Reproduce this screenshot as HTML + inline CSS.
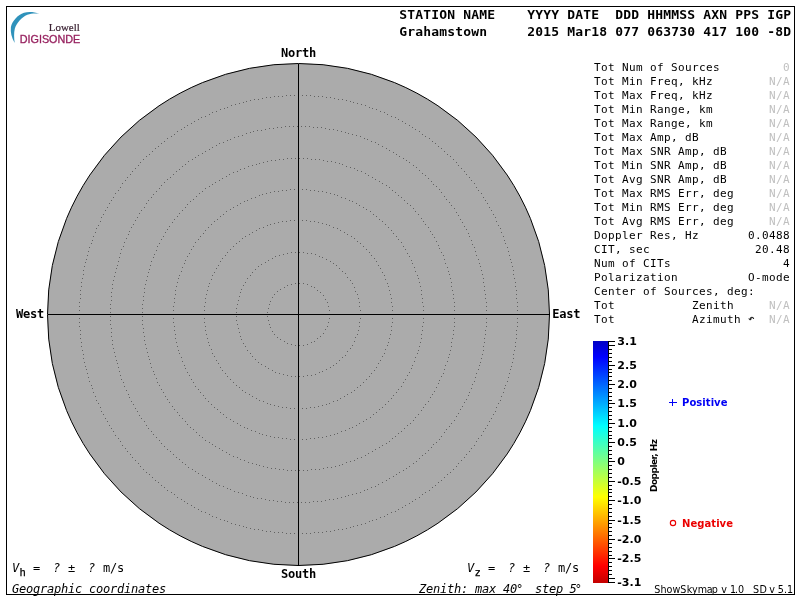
<!DOCTYPE html>
<html lang="en">
<head>
<meta charset="utf-8">
<title>ShowSkymap - Grahamstown</title>
<style>
html,body{margin:0;padding:0;background:#fff;width:800px;height:600px;overflow:hidden}
svg{position:absolute;left:0;top:0;display:block}
text{white-space:pre}
.m{font-family:"DejaVu Sans Mono","Liberation Mono",monospace;font-size:12px;fill:#000}
.mb{font-family:"DejaVu Sans Mono","Liberation Mono",monospace;font-size:12px;font-weight:bold;fill:#000}
.hb{font-family:"DejaVu Sans Mono","Liberation Mono",monospace;font-size:13px;font-weight:bold;fill:#000}
.mi{font-family:"DejaVu Sans Mono","Liberation Mono",monospace;font-size:12px;font-style:italic;fill:#000}
.p{font-family:"DejaVu Sans Mono","Liberation Mono",monospace;font-size:11px;fill:#000}
.g{fill:#c0c0c0}
.s{font-family:"DejaVu Sans","Liberation Sans",sans-serif;font-size:9.6px;fill:#000}
.sb{font-family:"DejaVu Sans","Liberation Sans",sans-serif;font-weight:bold;fill:#000}
</style>
</head>
<body>
<svg width="800" height="600" viewBox="0 0 800 600">
<defs>
<linearGradient id="jet" gradientUnits="userSpaceOnUse" x1="0" y1="341" x2="0" y2="583">
<stop offset="0.0000" stop-color="rgb(0,0,195)"/>
<stop offset="0.0661" stop-color="rgb(0,0,255)"/>
<stop offset="0.3512" stop-color="rgb(0,255,255)"/>
<stop offset="0.6446" stop-color="rgb(255,255,0)"/>
<stop offset="0.9298" stop-color="rgb(255,0,0)"/>
<stop offset="1.0000" stop-color="rgb(195,0,0)"/>
</linearGradient>
</defs>
<rect x="6.5" y="6.5" width="788" height="588" fill="#fff" stroke="#000" stroke-width="1" shape-rendering="crispEdges"/>
<g id="logo">
<path d="M14.7,43 C11.6,38 10.3,32.2 10.9,27 C12.2,21 17.8,14.8 24,12.7 C29,11.6 34.5,12 39.3,13.9 C35.5,13.1 31,13.5 27.4,14.8 C21.5,17.2 16.6,23 14.8,28.8 C13.8,33 14,38 14.7,43 Z" fill="#2f92bb"/>
<text x="48.8" y="30.5" textLength="31" lengthAdjust="spacingAndGlyphs" style="font-family:'Liberation Serif',serif;font-size:10.5px;fill:#3b2233;stroke:#3b2233;stroke-width:0.2px">Lowell</text>
<text x="19.7" y="43.4" textLength="60.6" lengthAdjust="spacingAndGlyphs" style="font-family:'Liberation Sans',sans-serif;font-size:10.5px;fill:#97215f;stroke:#97215f;stroke-width:0.3px">DIGISONDE</text>
</g>
<text class="hb" x="399.3 407.3 415.3 423.3 431.3 439.3 447.3" y="19">STATION</text>
<text class="hb" x="463.3 471.3 479.3 487.3" y="19">NAME</text>
<text class="hb" x="527.3 535.3 543.3 551.3" y="19">YYYY</text>
<text class="hb" x="567.3 575.3 583.3 591.3" y="19">DATE</text>
<text class="hb" x="615.3 623.3 631.3" y="19">DDD</text>
<text class="hb" x="647.3 655.3 663.3 671.3 679.3 687.3" y="19">HHMMSS</text>
<text class="hb" x="703.3 711.3 719.3" y="19">AXN</text>
<text class="hb" x="735.3 743.3 751.3" y="19">PPS</text>
<text class="hb" x="767.3 775.3 783.3" y="19">IGP</text>
<text class="hb" x="399.3 407.3 415.3 423.3 431.3 439.3 447.3 455.3 463.3 471.3 479.3" y="36">Grahamstown</text>
<text class="hb" x="527.3 535.3 543.3 551.3" y="36">2015</text>
<text class="hb" x="567.3 575.3 583.3 591.3 599.3" y="36">Mar18</text>
<text class="hb" x="615.3 623.3 631.3" y="36">077</text>
<text class="hb" x="647.3 655.3 663.3 671.3 679.3 687.3" y="36">063730</text>
<text class="hb" x="703.3 711.3 719.3" y="36">417</text>
<text class="hb" x="735.3 743.3 751.3" y="36">100</text>
<text class="hb" x="767.3 775.3 783.3" y="36">-8D</text>
<text class="p" x="594 601 608" y="71">Tot</text>
<text class="p" x="622 629 636" y="71">Num</text>
<text class="p" x="650 657" y="71">of</text>
<text class="p" x="671 678 685 692 699 706 713" y="71">Sources</text>
<text class="p g" x="783" y="71">0</text>
<text class="p" x="594 601 608" y="85">Tot</text>
<text class="p" x="622 629 636" y="85">Min</text>
<text class="p" x="650 657 664 671 678" y="85">Freq,</text>
<text class="p" x="692 699 706" y="85">kHz</text>
<text class="p g" x="769 776 783" y="85">N/A</text>
<text class="p" x="594 601 608" y="99">Tot</text>
<text class="p" x="622 629 636" y="99">Max</text>
<text class="p" x="650 657 664 671 678" y="99">Freq,</text>
<text class="p" x="692 699 706" y="99">kHz</text>
<text class="p g" x="769 776 783" y="99">N/A</text>
<text class="p" x="594 601 608" y="113">Tot</text>
<text class="p" x="622 629 636" y="113">Min</text>
<text class="p" x="650 657 664 671 678 685" y="113">Range,</text>
<text class="p" x="699 706" y="113">km</text>
<text class="p g" x="769 776 783" y="113">N/A</text>
<text class="p" x="594 601 608" y="127">Tot</text>
<text class="p" x="622 629 636" y="127">Max</text>
<text class="p" x="650 657 664 671 678 685" y="127">Range,</text>
<text class="p" x="699 706" y="127">km</text>
<text class="p g" x="769 776 783" y="127">N/A</text>
<text class="p" x="594 601 608" y="141">Tot</text>
<text class="p" x="622 629 636" y="141">Max</text>
<text class="p" x="650 657 664 671" y="141">Amp,</text>
<text class="p" x="685 692" y="141">dB</text>
<text class="p g" x="769 776 783" y="141">N/A</text>
<text class="p" x="594 601 608" y="155">Tot</text>
<text class="p" x="622 629 636" y="155">Max</text>
<text class="p" x="650 657 664" y="155">SNR</text>
<text class="p" x="678 685 692 699" y="155">Amp,</text>
<text class="p" x="713 720" y="155">dB</text>
<text class="p g" x="769 776 783" y="155">N/A</text>
<text class="p" x="594 601 608" y="169">Tot</text>
<text class="p" x="622 629 636" y="169">Min</text>
<text class="p" x="650 657 664" y="169">SNR</text>
<text class="p" x="678 685 692 699" y="169">Amp,</text>
<text class="p" x="713 720" y="169">dB</text>
<text class="p g" x="769 776 783" y="169">N/A</text>
<text class="p" x="594 601 608" y="183">Tot</text>
<text class="p" x="622 629 636" y="183">Avg</text>
<text class="p" x="650 657 664" y="183">SNR</text>
<text class="p" x="678 685 692 699" y="183">Amp,</text>
<text class="p" x="713 720" y="183">dB</text>
<text class="p g" x="769 776 783" y="183">N/A</text>
<text class="p" x="594 601 608" y="197">Tot</text>
<text class="p" x="622 629 636" y="197">Max</text>
<text class="p" x="650 657 664" y="197">RMS</text>
<text class="p" x="678 685 692 699" y="197">Err,</text>
<text class="p" x="713 720 727" y="197">deg</text>
<text class="p g" x="769 776 783" y="197">N/A</text>
<text class="p" x="594 601 608" y="211">Tot</text>
<text class="p" x="622 629 636" y="211">Min</text>
<text class="p" x="650 657 664" y="211">RMS</text>
<text class="p" x="678 685 692 699" y="211">Err,</text>
<text class="p" x="713 720 727" y="211">deg</text>
<text class="p g" x="769 776 783" y="211">N/A</text>
<text class="p" x="594 601 608" y="225">Tot</text>
<text class="p" x="622 629 636" y="225">Avg</text>
<text class="p" x="650 657 664" y="225">RMS</text>
<text class="p" x="678 685 692 699" y="225">Err,</text>
<text class="p" x="713 720 727" y="225">deg</text>
<text class="p g" x="769 776 783" y="225">N/A</text>
<text class="p" x="594 601 608 615 622 629 636" y="239">Doppler</text>
<text class="p" x="650 657 664 671" y="239">Res,</text>
<text class="p" x="685 692" y="239">Hz</text>
<text class="p" x="748 755 762 769 776 783" y="239">0.0488</text>
<text class="p" x="594 601 608 615" y="253">CIT,</text>
<text class="p" x="629 636 643" y="253">sec</text>
<text class="p" x="755 762 769 776 783" y="253">20.48</text>
<text class="p" x="594 601 608" y="267">Num</text>
<text class="p" x="622 629" y="267">of</text>
<text class="p" x="643 650 657 664" y="267">CITs</text>
<text class="p" x="783" y="267">4</text>
<text class="p" x="594 601 608 615 622 629 636 643 650 657 664 671" y="281">Polarization</text>
<text class="p" x="748 755 762 769 776 783" y="281">O-mode</text>
<text class="p" x="594 601 608 615 622 629" y="295">Center</text>
<text class="p" x="643 650" y="295">of</text>
<text class="p" x="664 671 678 685 692 699 706 713" y="295">Sources,</text>
<text class="p" x="727 734 741 748" y="295">deg:</text>
<text class="p" x="594 601 608" y="309">Tot</text>
<text class="p" x="692 699 706 713 720 727" y="309">Zenith</text>
<text class="p g" x="769 776 783" y="309">N/A</text>
<text class="p" x="594 601 608" y="323">Tot</text>
<text class="p" x="692 699 706 713 720 727 734" y="323">Azimuth</text>
<text class="p g" x="769 776 783" y="323">N/A</text>
<text class="m" x="748" y="322" style="font-size:10.5px;font-weight:bold;fill:#222">↶</text>
<circle cx="298.5" cy="314.5" r="251" fill="#ababab" stroke="#000" stroke-width="1"/>
<path d="M329 314.5h1M329 310.5h1M328 306.5h1M327 302.5h1M325 299.5h1M323 295.5h1M320 292.5h1M317 290.5h1M314 287.5h1M311 286.5h1M307 284.5h1M303 283.5h1M299 283.5h1M295 283.5h1M291 284.5h1M287 285.5h1M284 287.5h1M280 289.5h1M277 291.5h1M274 294.5h1M272 297.5h1M270 301.5h1M269 304.5h1M268 308.5h1M267 312.5h1M267 316.5h1M268 320.5h1M269 324.5h1M270 327.5h1M272 331.5h1M274 334.5h1M277 337.5h1M280 339.5h1M284 341.5h1M287 343.5h1M291 344.5h1M295 345.5h1M299 345.5h1M303 345.5h1M307 344.5h1M311 342.5h1M314 341.5h1M317 338.5h1M320 336.5h1M323 333.5h1M325 329.5h1M327 326.5h1M328 322.5h1M329 318.5h1M360 314.5h1M360 310.5h1M359 306.5h1M359 302.5h1M358 298.5h1M357 294.5h1M355 291.5h1M354 287.5h1M352 283.5h1M350 280.5h1M347 277.5h1M345 273.5h1M342 271.5h1M339 268.5h1M336 265.5h1M333 263.5h1M330 261.5h1M326 259.5h1M322 257.5h1M319 256.5h1M315 254.5h1M311 253.5h1M307 253.5h1M303 252.5h1M299 252.5h1M295 252.5h1M291 252.5h1M287 253.5h1M283 254.5h1M279 255.5h1M275 256.5h1M272 258.5h1M268 260.5h1M265 262.5h1M261 264.5h1M258 266.5h1M255 269.5h1M252 272.5h1M250 275.5h1M247 278.5h1M245 282.5h1M243 285.5h1M241 289.5h1M240 292.5h1M239 296.5h1M238 300.5h1M237 304.5h1M236 308.5h1M236 312.5h1M236 316.5h1M236 320.5h1M237 324.5h1M238 328.5h1M239 332.5h1M240 336.5h1M241 339.5h1M243 343.5h1M245 346.5h1M247 350.5h1M250 353.5h1M252 356.5h1M255 359.5h1M258 362.5h1M261 364.5h1M265 366.5h1M268 368.5h1M272 370.5h1M275 372.5h1M279 373.5h1M283 374.5h1M287 375.5h1M291 376.5h1M295 376.5h1M299 376.5h1M303 376.5h1M307 375.5h1M311 375.5h1M315 374.5h1M319 372.5h1M322 371.5h1M326 369.5h1M330 367.5h1M333 365.5h1M336 363.5h1M339 360.5h1M342 357.5h1M345 355.5h1M347 351.5h1M350 348.5h1M352 345.5h1M354 341.5h1M355 337.5h1M357 334.5h1M358 330.5h1M359 326.5h1M359 322.5h1M360 318.5h1M392 314.5h1M392 310.5h1M392 306.5h1M391 302.5h1M391 298.5h1M390 294.5h1M389 290.5h1M388 286.5h1M387 283.5h1M385 279.5h1M384 275.5h1M382 272.5h1M380 268.5h1M378 265.5h1M376 261.5h1M374 258.5h1M371 255.5h1M369 252.5h1M366 249.5h1M363 246.5h1M360 243.5h1M357 241.5h1M354 238.5h1M351 236.5h1M347 234.5h1M344 232.5h1M340 230.5h1M337 228.5h1M333 227.5h1M329 225.5h1M326 224.5h1M322 223.5h1M318 222.5h1M314 221.5h1M310 221.5h1M306 220.5h1M302 220.5h1M298 220.5h1M294 220.5h1M290 220.5h1M286 221.5h1M282 221.5h1M278 222.5h1M274 223.5h1M270 224.5h1M267 225.5h1M263 227.5h1M259 228.5h1M256 230.5h1M252 232.5h1M249 234.5h1M245 236.5h1M242 238.5h1M239 241.5h1M236 243.5h1M233 246.5h1M230 249.5h1M227 252.5h1M225 255.5h1M222 258.5h1M220 261.5h1M218 265.5h1M216 268.5h1M214 272.5h1M212 275.5h1M211 279.5h1M209 283.5h1M208 286.5h1M207 290.5h1M206 294.5h1M205 298.5h1M205 302.5h1M204 306.5h1M204 310.5h1M204 314.5h1M204 318.5h1M204 322.5h1M205 326.5h1M205 330.5h1M206 334.5h1M207 338.5h1M208 342.5h1M209 345.5h1M211 349.5h1M212 353.5h1M214 356.5h1M216 360.5h1M218 363.5h1M220 367.5h1M222 370.5h1M225 373.5h1M227 376.5h1M230 379.5h1M233 382.5h1M236 385.5h1M239 387.5h1M242 390.5h1M245 392.5h1M249 394.5h1M252 396.5h1M256 398.5h1M259 400.5h1M263 401.5h1M267 403.5h1M270 404.5h1M274 405.5h1M278 406.5h1M282 407.5h1M286 407.5h1M290 408.5h1M294 408.5h1M298 408.5h1M302 408.5h1M306 408.5h1M310 407.5h1M314 407.5h1M318 406.5h1M322 405.5h1M326 404.5h1M329 403.5h1M333 401.5h1M337 400.5h1M340 398.5h1M344 396.5h1M347 394.5h1M351 392.5h1M354 390.5h1M357 387.5h1M360 385.5h1M363 382.5h1M366 379.5h1M369 376.5h1M371 373.5h1M374 370.5h1M376 367.5h1M378 363.5h1M380 360.5h1M382 356.5h1M384 353.5h1M385 349.5h1M387 345.5h1M388 342.5h1M389 338.5h1M390 334.5h1M391 330.5h1M391 326.5h1M392 322.5h1M392 318.5h1M423 314.5h1M423 310.5h1M423 306.5h1M422 302.5h1M422 298.5h1M421 294.5h1M421 290.5h1M420 286.5h1M419 282.5h1M418 278.5h1M417 275.5h1M415 271.5h1M414 267.5h1M412 263.5h1M411 260.5h1M409 256.5h1M407 253.5h1M405 249.5h1M403 246.5h1M401 242.5h1M398 239.5h1M396 236.5h1M393 233.5h1M391 230.5h1M388 227.5h1M385 224.5h1M382 221.5h1M379 219.5h1M376 216.5h1M373 214.5h1M370 211.5h1M366 209.5h1M363 207.5h1M359 205.5h1M356 203.5h1M352 201.5h1M349 200.5h1M345 198.5h1M341 197.5h1M337 195.5h1M334 194.5h1M330 193.5h1M326 192.5h1M322 191.5h1M318 191.5h1M314 190.5h1M310 190.5h1M306 189.5h1M302 189.5h1M298 189.5h1M294 189.5h1M290 189.5h1M286 190.5h1M282 190.5h1M278 191.5h1M274 191.5h1M270 192.5h1M266 193.5h1M262 194.5h1M259 195.5h1M255 197.5h1M251 198.5h1M247 200.5h1M244 201.5h1M240 203.5h1M237 205.5h1M233 207.5h1M230 209.5h1M226 211.5h1M223 214.5h1M220 216.5h1M217 219.5h1M214 221.5h1M211 224.5h1M208 227.5h1M205 230.5h1M203 233.5h1M200 236.5h1M198 239.5h1M195 242.5h1M193 246.5h1M191 249.5h1M189 253.5h1M187 256.5h1M185 260.5h1M184 263.5h1M182 267.5h1M181 271.5h1M179 275.5h1M178 278.5h1M177 282.5h1M176 286.5h1M175 290.5h1M175 294.5h1M174 298.5h1M174 302.5h1M173 306.5h1M173 310.5h1M173 314.5h1M173 318.5h1M173 322.5h1M174 326.5h1M174 330.5h1M175 334.5h1M175 338.5h1M176 342.5h1M177 346.5h1M178 350.5h1M179 353.5h1M181 357.5h1M182 361.5h1M184 365.5h1M185 368.5h1M187 372.5h1M189 375.5h1M191 379.5h1M193 382.5h1M195 386.5h1M198 389.5h1M200 392.5h1M203 395.5h1M205 398.5h1M208 401.5h1M211 404.5h1M214 407.5h1M217 409.5h1M220 412.5h1M223 414.5h1M226 417.5h1M230 419.5h1M233 421.5h1M237 423.5h1M240 425.5h1M244 427.5h1M247 428.5h1M251 430.5h1M255 431.5h1M259 433.5h1M262 434.5h1M266 435.5h1M270 436.5h1M274 437.5h1M278 437.5h1M282 438.5h1M286 438.5h1M290 439.5h1M294 439.5h1M298 439.5h1M302 439.5h1M306 439.5h1M310 438.5h1M314 438.5h1M318 437.5h1M322 437.5h1M326 436.5h1M330 435.5h1M334 434.5h1M337 433.5h1M341 431.5h1M345 430.5h1M349 428.5h1M352 427.5h1M356 425.5h1M359 423.5h1M363 421.5h1M366 419.5h1M370 417.5h1M373 414.5h1M376 412.5h1M379 409.5h1M382 407.5h1M385 404.5h1M388 401.5h1M391 398.5h1M393 395.5h1M396 392.5h1M398 389.5h1M401 386.5h1M403 382.5h1M405 379.5h1M407 375.5h1M409 372.5h1M411 368.5h1M412 365.5h1M414 361.5h1M415 357.5h1M417 353.5h1M418 350.5h1M419 346.5h1M420 342.5h1M421 338.5h1M421 334.5h1M422 330.5h1M422 326.5h1M423 322.5h1M423 318.5h1M454 314.5h1M454 310.5h1M454 306.5h1M454 302.5h1M453 298.5h1M453 294.5h1M452 290.5h1M451 286.5h1M451 282.5h1M450 278.5h1M449 274.5h1M448 271.5h1M447 267.5h1M445 263.5h1M444 259.5h1M443 255.5h1M441 252.5h1M439 248.5h1M438 245.5h1M436 241.5h1M434 237.5h1M432 234.5h1M430 231.5h1M428 227.5h1M425 224.5h1M423 221.5h1M421 218.5h1M418 214.5h1M415 211.5h1M413 208.5h1M410 205.5h1M407 203.5h1M404 200.5h1M401 197.5h1M398 195.5h1M395 192.5h1M392 190.5h1M389 187.5h1M386 185.5h1M382 183.5h1M379 181.5h1M375 179.5h1M372 177.5h1M368 175.5h1M365 173.5h1M361 171.5h1M357 170.5h1M354 168.5h1M350 167.5h1M346 166.5h1M342 164.5h1M339 163.5h1M335 162.5h1M331 161.5h1M327 161.5h1M323 160.5h1M319 159.5h1M315 159.5h1M311 159.5h1M307 158.5h1M303 158.5h1M299 158.5h1M295 158.5h1M291 158.5h1M287 158.5h1M283 159.5h1M279 159.5h1M275 160.5h1M271 160.5h1M267 161.5h1M263 162.5h1M259 163.5h1M256 164.5h1M252 165.5h1M248 166.5h1M244 168.5h1M240 169.5h1M237 171.5h1M233 172.5h1M229 174.5h1M226 176.5h1M222 178.5h1M219 180.5h1M215 182.5h1M212 184.5h1M209 186.5h1M205 188.5h1M202 191.5h1M199 193.5h1M196 196.5h1M193 199.5h1M190 201.5h1M187 204.5h1M185 207.5h1M182 210.5h1M179 213.5h1M177 216.5h1M174 219.5h1M172 222.5h1M169 226.5h1M167 229.5h1M165 232.5h1M163 236.5h1M161 239.5h1M159 243.5h1M157 246.5h1M156 250.5h1M154 254.5h1M153 257.5h1M151 261.5h1M150 265.5h1M149 269.5h1M148 272.5h1M147 276.5h1M146 280.5h1M145 284.5h1M144 288.5h1M144 292.5h1M143 296.5h1M143 300.5h1M142 304.5h1M142 308.5h1M142 312.5h1M142 316.5h1M142 320.5h1M142 324.5h1M143 328.5h1M143 332.5h1M144 336.5h1M144 340.5h1M145 344.5h1M146 348.5h1M147 352.5h1M148 356.5h1M149 359.5h1M150 363.5h1M151 367.5h1M153 371.5h1M154 374.5h1M156 378.5h1M157 382.5h1M159 385.5h1M161 389.5h1M163 392.5h1M165 396.5h1M167 399.5h1M169 402.5h1M172 406.5h1M174 409.5h1M177 412.5h1M179 415.5h1M182 418.5h1M185 421.5h1M187 424.5h1M190 427.5h1M193 429.5h1M196 432.5h1M199 435.5h1M202 437.5h1M205 440.5h1M209 442.5h1M212 444.5h1M215 446.5h1M219 448.5h1M222 450.5h1M226 452.5h1M229 454.5h1M233 456.5h1M237 457.5h1M240 459.5h1M244 460.5h1M248 462.5h1M252 463.5h1M256 464.5h1M259 465.5h1M263 466.5h1M267 467.5h1M271 468.5h1M275 468.5h1M279 469.5h1M283 469.5h1M287 470.5h1M291 470.5h1M295 470.5h1M299 470.5h1M303 470.5h1M307 470.5h1M311 469.5h1M315 469.5h1M319 469.5h1M323 468.5h1M327 467.5h1M331 467.5h1M335 466.5h1M339 465.5h1M342 464.5h1M346 462.5h1M350 461.5h1M354 460.5h1M357 458.5h1M361 457.5h1M365 455.5h1M368 453.5h1M372 451.5h1M375 449.5h1M379 447.5h1M382 445.5h1M386 443.5h1M389 441.5h1M392 438.5h1M395 436.5h1M398 433.5h1M401 431.5h1M404 428.5h1M407 425.5h1M410 423.5h1M413 420.5h1M415 417.5h1M418 414.5h1M421 410.5h1M423 407.5h1M425 404.5h1M428 401.5h1M430 397.5h1M432 394.5h1M434 391.5h1M436 387.5h1M438 383.5h1M439 380.5h1M441 376.5h1M443 373.5h1M444 369.5h1M445 365.5h1M447 361.5h1M448 357.5h1M449 354.5h1M450 350.5h1M451 346.5h1M451 342.5h1M452 338.5h1M453 334.5h1M453 330.5h1M454 326.5h1M454 322.5h1M454 318.5h1M486 314.5h1M486 310.5h1M486 306.5h1M486 302.5h1M485 298.5h1M485 294.5h1M484 290.5h1M484 286.5h1M483 282.5h1M483 278.5h1M482 274.5h1M481 270.5h1M480 266.5h1M479 263.5h1M478 259.5h1M476 255.5h1M475 251.5h1M474 247.5h1M472 244.5h1M471 240.5h1M469 236.5h1M468 233.5h1M466 229.5h1M464 226.5h1M462 222.5h1M460 219.5h1M458 215.5h1M456 212.5h1M454 208.5h1M451 205.5h1M449 202.5h1M446 199.5h1M444 196.5h1M441 192.5h1M439 189.5h1M436 186.5h1M433 184.5h1M431 181.5h1M428 178.5h1M425 175.5h1M422 173.5h1M419 170.5h1M416 167.5h1M413 165.5h1M409 162.5h1M406 160.5h1M403 158.5h1M399 156.5h1M396 154.5h1M393 152.5h1M389 150.5h1M386 148.5h1M382 146.5h1M378 144.5h1M375 142.5h1M371 141.5h1M367 139.5h1M364 138.5h1M360 136.5h1M356 135.5h1M352 134.5h1M348 133.5h1M345 132.5h1M341 131.5h1M337 130.5h1M333 129.5h1M329 129.5h1M325 128.5h1M321 127.5h1M317 127.5h1M313 127.5h1M309 126.5h1M305 126.5h1M301 126.5h1M297 126.5h1M293 126.5h1M289 126.5h1M285 126.5h1M281 127.5h1M277 127.5h1M273 128.5h1M269 128.5h1M265 129.5h1M261 130.5h1M257 130.5h1M253 131.5h1M250 132.5h1M246 133.5h1M242 135.5h1M238 136.5h1M234 137.5h1M230 139.5h1M227 140.5h1M223 142.5h1M219 143.5h1M216 145.5h1M212 147.5h1M209 149.5h1M205 151.5h1M202 153.5h1M198 155.5h1M195 157.5h1M192 159.5h1M188 161.5h1M185 164.5h1M182 166.5h1M179 169.5h1M176 171.5h1M173 174.5h1M170 177.5h1M167 179.5h1M164 182.5h1M161 185.5h1M159 188.5h1M156 191.5h1M153 194.5h1M151 197.5h1M148 200.5h1M146 203.5h1M144 207.5h1M141 210.5h1M139 213.5h1M137 217.5h1M135 220.5h1M133 224.5h1M131 227.5h1M129 231.5h1M128 234.5h1M126 238.5h1M124 242.5h1M123 246.5h1M121 249.5h1M120 253.5h1M119 257.5h1M118 261.5h1M117 265.5h1M116 268.5h1M115 272.5h1M114 276.5h1M113 280.5h1M112 284.5h1M112 288.5h1M111 292.5h1M111 296.5h1M111 300.5h1M110 304.5h1M110 308.5h1M110 312.5h1M110 316.5h1M110 320.5h1M110 324.5h1M111 328.5h1M111 332.5h1M111 336.5h1M112 340.5h1M112 344.5h1M113 348.5h1M114 352.5h1M115 356.5h1M116 360.5h1M117 363.5h1M118 367.5h1M119 371.5h1M120 375.5h1M121 379.5h1M123 382.5h1M124 386.5h1M126 390.5h1M128 394.5h1M129 397.5h1M131 401.5h1M133 404.5h1M135 408.5h1M137 411.5h1M139 415.5h1M141 418.5h1M144 421.5h1M146 425.5h1M148 428.5h1M151 431.5h1M153 434.5h1M156 437.5h1M159 440.5h1M161 443.5h1M164 446.5h1M167 449.5h1M170 451.5h1M173 454.5h1M176 457.5h1M179 459.5h1M182 462.5h1M185 464.5h1M188 467.5h1M192 469.5h1M195 471.5h1M198 473.5h1M202 475.5h1M205 477.5h1M209 479.5h1M212 481.5h1M216 483.5h1M219 485.5h1M223 486.5h1M227 488.5h1M230 489.5h1M234 491.5h1M238 492.5h1M242 493.5h1M246 495.5h1M250 496.5h1M253 497.5h1M257 498.5h1M261 498.5h1M265 499.5h1M269 500.5h1M273 500.5h1M277 501.5h1M281 501.5h1M285 502.5h1M289 502.5h1M293 502.5h1M297 502.5h1M301 502.5h1M305 502.5h1M309 502.5h1M313 501.5h1M317 501.5h1M321 501.5h1M325 500.5h1M329 499.5h1M333 499.5h1M337 498.5h1M341 497.5h1M345 496.5h1M348 495.5h1M352 494.5h1M356 493.5h1M360 492.5h1M364 490.5h1M367 489.5h1M371 487.5h1M375 486.5h1M378 484.5h1M382 482.5h1M386 480.5h1M389 478.5h1M393 476.5h1M396 474.5h1M399 472.5h1M403 470.5h1M406 468.5h1M409 466.5h1M413 463.5h1M416 461.5h1M419 458.5h1M422 455.5h1M425 453.5h1M428 450.5h1M431 447.5h1M433 444.5h1M436 442.5h1M439 439.5h1M441 436.5h1M444 432.5h1M446 429.5h1M449 426.5h1M451 423.5h1M454 420.5h1M456 416.5h1M458 413.5h1M460 409.5h1M462 406.5h1M464 402.5h1M466 399.5h1M468 395.5h1M469 392.5h1M471 388.5h1M472 384.5h1M474 381.5h1M475 377.5h1M476 373.5h1M478 369.5h1M479 365.5h1M480 362.5h1M481 358.5h1M482 354.5h1M483 350.5h1M483 346.5h1M484 342.5h1M484 338.5h1M485 334.5h1M485 330.5h1M486 326.5h1M486 322.5h1M486 318.5h1M517 314.5h1M517 310.5h1M517 306.5h1M517 302.5h1M516 298.5h1M516 294.5h1M516 290.5h1M515 286.5h1M515 282.5h1M514 278.5h1M513 274.5h1M513 270.5h1M512 266.5h1M511 262.5h1M510 259.5h1M509 255.5h1M508 251.5h1M507 247.5h1M505 243.5h1M504 240.5h1M503 236.5h1M501 232.5h1M500 228.5h1M498 225.5h1M496 221.5h1M495 217.5h1M493 214.5h1M491 210.5h1M489 207.5h1M487 203.5h1M485 200.5h1M483 197.5h1M481 193.5h1M478 190.5h1M476 187.5h1M474 183.5h1M471 180.5h1M469 177.5h1M466 174.5h1M464 171.5h1M461 168.5h1M458 165.5h1M456 162.5h1M453 159.5h1M450 156.5h1M447 154.5h1M444 151.5h1M441 148.5h1M438 146.5h1M435 143.5h1M432 141.5h1M429 138.5h1M425 136.5h1M422 134.5h1M419 131.5h1M415 129.5h1M412 127.5h1M409 125.5h1M405 123.5h1M402 121.5h1M398 119.5h1M395 117.5h1M391 116.5h1M387 114.5h1M384 112.5h1M380 111.5h1M376 109.5h1M372 108.5h1M369 107.5h1M365 105.5h1M361 104.5h1M357 103.5h1M353 102.5h1M350 101.5h1M346 100.5h1M342 99.5h1M338 99.5h1M334 98.5h1M330 97.5h1M326 97.5h1M322 96.5h1M318 96.5h1M314 96.5h1M310 95.5h1M306 95.5h1M302 95.5h1M298 95.5h1M294 95.5h1M290 95.5h1M286 95.5h1M282 96.5h1M278 96.5h1M274 96.5h1M270 97.5h1M266 97.5h1M262 98.5h1M258 99.5h1M254 99.5h1M250 100.5h1M246 101.5h1M243 102.5h1M239 103.5h1M235 104.5h1M231 105.5h1M227 107.5h1M224 108.5h1M220 109.5h1M216 111.5h1M212 112.5h1M209 114.5h1M205 116.5h1M201 117.5h1M198 119.5h1M194 121.5h1M191 123.5h1M187 125.5h1M184 127.5h1M181 129.5h1M177 131.5h1M174 134.5h1M171 136.5h1M167 138.5h1M164 141.5h1M161 143.5h1M158 146.5h1M155 148.5h1M152 151.5h1M149 154.5h1M146 156.5h1M143 159.5h1M140 162.5h1M138 165.5h1M135 168.5h1M132 171.5h1M130 174.5h1M127 177.5h1M125 180.5h1M122 183.5h1M120 187.5h1M118 190.5h1M115 193.5h1M113 197.5h1M111 200.5h1M109 203.5h1M107 207.5h1M105 210.5h1M103 214.5h1M101 217.5h1M100 221.5h1M98 225.5h1M96 228.5h1M95 232.5h1M93 236.5h1M92 240.5h1M91 243.5h1M89 247.5h1M88 251.5h1M87 255.5h1M86 259.5h1M85 262.5h1M84 266.5h1M83 270.5h1M83 274.5h1M82 278.5h1M81 282.5h1M81 286.5h1M80 290.5h1M80 294.5h1M80 298.5h1M79 302.5h1M79 306.5h1M79 310.5h1M79 314.5h1M79 318.5h1M79 322.5h1M79 326.5h1M80 330.5h1M80 334.5h1M80 338.5h1M81 342.5h1M81 346.5h1M82 350.5h1M83 354.5h1M83 358.5h1M84 362.5h1M85 366.5h1M86 369.5h1M87 373.5h1M88 377.5h1M89 381.5h1M91 385.5h1M92 388.5h1M93 392.5h1M95 396.5h1M96 400.5h1M98 403.5h1M100 407.5h1M101 411.5h1M103 414.5h1M105 418.5h1M107 421.5h1M109 425.5h1M111 428.5h1M113 431.5h1M115 435.5h1M118 438.5h1M120 441.5h1M122 445.5h1M125 448.5h1M127 451.5h1M130 454.5h1M132 457.5h1M135 460.5h1M138 463.5h1M140 466.5h1M143 469.5h1M146 472.5h1M149 474.5h1M152 477.5h1M155 480.5h1M158 482.5h1M161 485.5h1M164 487.5h1M167 490.5h1M171 492.5h1M174 494.5h1M177 497.5h1M181 499.5h1M184 501.5h1M187 503.5h1M191 505.5h1M194 507.5h1M198 509.5h1M201 511.5h1M205 512.5h1M209 514.5h1M212 516.5h1M216 517.5h1M220 519.5h1M224 520.5h1M227 521.5h1M231 523.5h1M235 524.5h1M239 525.5h1M243 526.5h1M246 527.5h1M250 528.5h1M254 529.5h1M258 529.5h1M262 530.5h1M266 531.5h1M270 531.5h1M274 532.5h1M278 532.5h1M282 532.5h1M286 533.5h1M290 533.5h1M294 533.5h1M298 533.5h1M302 533.5h1M306 533.5h1M310 533.5h1M314 532.5h1M318 532.5h1M322 532.5h1M326 531.5h1M330 531.5h1M334 530.5h1M338 529.5h1M342 529.5h1M346 528.5h1M350 527.5h1M353 526.5h1M357 525.5h1M361 524.5h1M365 523.5h1M369 521.5h1M372 520.5h1M376 519.5h1M380 517.5h1M384 516.5h1M387 514.5h1M391 512.5h1M395 511.5h1M398 509.5h1M402 507.5h1M405 505.5h1M409 503.5h1M412 501.5h1M415 499.5h1M419 497.5h1M422 494.5h1M425 492.5h1M429 490.5h1M432 487.5h1M435 485.5h1M438 482.5h1M441 480.5h1M444 477.5h1M447 474.5h1M450 472.5h1M453 469.5h1M456 466.5h1M458 463.5h1M461 460.5h1M464 457.5h1M466 454.5h1M469 451.5h1M471 448.5h1M474 445.5h1M476 441.5h1M478 438.5h1M481 435.5h1M483 431.5h1M485 428.5h1M487 425.5h1M489 421.5h1M491 418.5h1M493 414.5h1M495 411.5h1M496 407.5h1M498 403.5h1M500 400.5h1M501 396.5h1M503 392.5h1M504 388.5h1M505 385.5h1M507 381.5h1M508 377.5h1M509 373.5h1M510 369.5h1M511 366.5h1M512 362.5h1M513 358.5h1M513 354.5h1M514 350.5h1M515 346.5h1M515 342.5h1M516 338.5h1M516 334.5h1M516 330.5h1M517 326.5h1M517 322.5h1M517 318.5h1" stroke="#626262" stroke-width="1" fill="none" shape-rendering="crispEdges"/>
<path d="M298.5,63.5V565.5M47.5,314.5H549.5" stroke="#000" stroke-width="1" fill="none" shape-rendering="crispEdges"/>
<text class="mb" x="281 288 295 302 309" y="57">North</text>
<text class="mb" x="281 288 295 302 309" y="578">South</text>
<text class="mb" x="16 23 30 37" y="318">West</text>
<text class="mb" x="552.3 559.3 566.3 573.3" y="318">East</text>
<text class="mi" x="12" y="572">V</text>
<text class="m" x="19.6" y="576" style="font-size:10.5px;stroke:#000;stroke-width:0.25px">h</text>
<text class="m" x="33" y="572">=</text>
<text class="mi" x="53" y="572">?</text>
<text class="m" x="68" y="572">±</text>
<text class="mi" x="88" y="572">?</text>
<text class="m" x="103 110 117" y="572">m/s</text>
<text class="mi" x="467" y="572">V</text>
<text class="m" x="474.6" y="576" style="font-size:10.5px;stroke:#000;stroke-width:0.25px">z</text>
<text class="m" x="488" y="572">=</text>
<text class="mi" x="508" y="572">?</text>
<text class="m" x="523" y="572">±</text>
<text class="mi" x="543" y="572">?</text>
<text class="m" x="558 565 572" y="572">m/s</text>
<text class="mi" x="12 19 26 33 40 47 54 61 68 75" y="593">Geographic</text>
<text class="mi" x="89 96 103 110 117 124 131 138 145 152 159" y="593">coordinates</text>
<text class="mi" x="419 426 433 440 447 454 461" y="593">Zenith:</text>
<text class="mi" x="475 482 489" y="593">max</text>
<text class="mi" x="503 510 516.1" y="593">40°</text>
<text class="mi" x="535 542 549 556" y="593">step</text>
<text class="mi" x="569.5 574.8" y="593">5°</text>
<rect x="593" y="341" width="15" height="242" fill="url(#jet)"/>
<path d="M608.5,341V583M609,341.5H615M609,345.5H615M609,349.5H612M609,353.5H612M609,357.5H612M609,361.5H612M609,365.5H615M609,369.5H612M609,372.5H612M609,376.5H612M609,380.5H612M609,384.5H615M609,388.5H612M609,392.5H612M609,396.5H612M609,400.5H612M609,403.5H615M609,407.5H612M609,411.5H612M609,415.5H612M609,419.5H612M609,423.5H615M609,427.5H612M609,431.5H612M609,435.5H612M609,438.5H612M609,442.5H615M609,446.5H612M609,450.5H612M609,454.5H612M609,458.5H612M609,461.5H615M609,465.5H612M609,469.5H612M609,473.5H612M609,477.5H612M609,481.5H615M609,485.5H612M609,489.5H612M609,492.5H612M609,496.5H612M609,500.5H615M609,504.5H612M609,508.5H612M609,512.5H612M609,516.5H612M609,520.5H615M609,523.5H612M609,527.5H612M609,531.5H612M609,535.5H612M609,539.5H615M609,543.5H612M609,547.5H612M609,551.5H612M609,555.5H612M609,558.5H615M609,562.5H612M609,566.5H612M609,570.5H612M609,574.5H612M609,578.5H615M609,582.5H615" stroke="#000" stroke-width="1" fill="none" shape-rendering="crispEdges"/>
<text class="sb" x="617.3" y="344.8" style="font-size:11px">3.1</text>
<text class="sb" x="617.3" y="368.8" style="font-size:11px">2.5</text>
<text class="sb" x="617.3" y="387.8" style="font-size:11px">2.0</text>
<text class="sb" x="617.3" y="406.8" style="font-size:11px">1.5</text>
<text class="sb" x="617.3" y="426.8" style="font-size:11px">1.0</text>
<text class="sb" x="617.3" y="445.8" style="font-size:11px">0.5</text>
<text class="sb" x="617.3" y="464.8" style="font-size:11px">0</text>
<text class="sb" x="617.3" y="484.8" style="font-size:11px">-0.5</text>
<text class="sb" x="617.3" y="503.8" style="font-size:11px">-1.0</text>
<text class="sb" x="617.3" y="523.8" style="font-size:11px">-1.5</text>
<text class="sb" x="617.3" y="542.8" style="font-size:11px">-2.0</text>
<text class="sb" x="617.3" y="561.8" style="font-size:11px">-2.5</text>
<text class="sb" x="617.3" y="585.8" style="font-size:11px">-3.1</text>
<text class="sb" transform="translate(657,492) rotate(-90)" textLength="53" lengthAdjust="spacing" style="font-size:9px">Doppler, Hz</text>
<path d="M669,402.5H677M672.5,399V406" stroke="#0000f5" stroke-width="1" fill="none" shape-rendering="crispEdges"/>
<text class="sb" x="682" y="406.4" textLength="45.5" lengthAdjust="spacing" style="font-size:10px;fill:#0000f5">Positive</text>
<circle cx="673" cy="523" r="2.65" fill="none" stroke="#eb0000" stroke-width="1.15"/>
<text class="sb" x="682" y="526.6" textLength="51" lengthAdjust="spacing" style="font-size:10px;fill:#eb0000">Negative</text>
<text class="s" y="593" x="654.3 660.6 666.5 672.6 680.3 686.7 692 697.8 706.7 711.8 718 721.2 727 730 735 737.9 744 747 750 753.1 759.5 767 769.2 775 777.8 784 787">ShowSkymap v 1.0   SD v 5.1</text>
</svg>
</body>
</html>
